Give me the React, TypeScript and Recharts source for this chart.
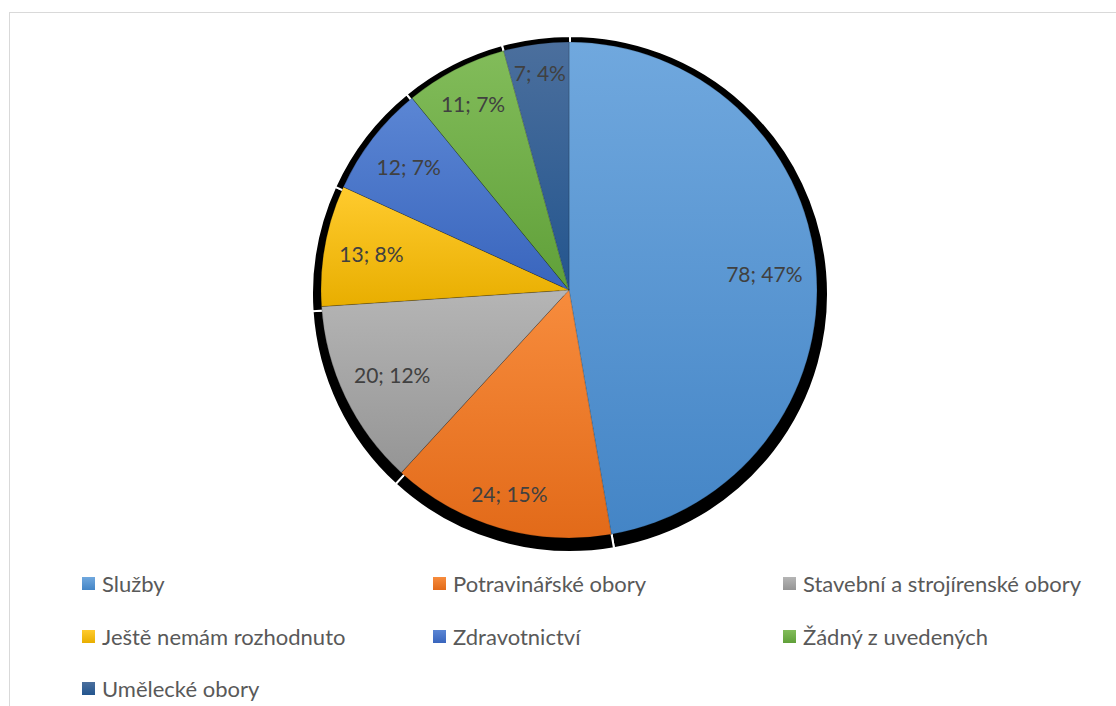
import { PieChart, Pie, Cell, Legend } from "recharts";

const categories = [
  "Služby",
  "Potravinářské obory",
  "Stavební a strojírenské obory",
  "Ještě nemám rozhodnuto",
  "Zdravotnictví",
  "Žádný z uvedených",
  "Umělecké obory",
];
const counts = [78, 24, 20, 13, 12, 11, 7];
const topColors = ["#70a8de", "#f78c3d", "#b5b5b5", "#ffcb2e", "#5b86d4", "#82bc5a", "#4b6f9d"];
const bottomColors = ["#4485c6", "#e26a19", "#959595", "#e8ae00", "#3965bd", "#60a039", "#23558e"];

const data = categories.map((name, i) => ({ name, value: counts[i] }));

const RADIAN = Math.PI / 180;
const FONT = "Lato, 'Open Sans', sans-serif";

// "inside end" style: push the label box out until its far corner nears the rim
const renderLabel = (props: any) => {
  const { cx, cy, midAngle, outerRadius, value, percent } = props;
  const text = `${value}; ${Math.round(percent * 100)}%`;
  const ux = Math.cos(-midAngle * RADIAN);
  const uy = Math.sin(-midAngle * RADIAN);
  const hw = (text.length * 10.6) / 2;
  const hh = 10;
  const c = outerRadius - 14;
  const b = Math.abs(ux) * hw + Math.abs(uy) * hh;
  const d = -b + Math.sqrt(b * b - (hw * hw + hh * hh - c * c));
  const x = cx + d * ux;
  const y = cy + d * uy;
  return (
    <text
      x={x}
      y={y}
      fill="#404040"
      fontSize={21}
      fontFamily={FONT}
      textAnchor="middle"
      dominantBaseline="central"
    >
      {text}
    </text>
  );
};

const legendCols = [82, 433, 783];
const legendRows = [583, 636, 688];

const renderLegend = () => (
  <div style={{ position: "relative", width: 1116, height: 140 }}>
    {categories.map((name, i) => {
      const col = i % 3;
      const row = Math.floor(i / 3);
      return (
        <div
          key={name}
          style={{
            position: "absolute",
            left: legendCols[col],
            top: legendRows[row] - 570 - 14,
            height: 28,
            display: "flex",
            alignItems: "center",
            whiteSpace: "nowrap",
          }}
        >
          <span
            style={{
              display: "inline-block",
              width: 13,
              height: 13,
              marginRight: 7,
              background: `linear-gradient(${topColors[i]}, ${bottomColors[i]})`,
            }}
          />
          <span style={{ fontFamily: FONT, fontSize: 22, color: "#595959" }}>{name}</span>
        </div>
      );
    })}
  </div>
);

export default function App() {
  return (
    <div
      style={{
        position: "absolute",
        left: 0,
        top: 0,
        width: 1116,
        height: 706,
        overflow: "hidden",
        background: "#ffffff",
      }}
    >
      <div
        style={{
          position: "absolute",
          left: 9,
          top: 12,
          width: 1130,
          height: 720,
          border: "1px solid #d9d9d9",
        }}
      />
      <div style={{ position: "absolute", left: 0, top: 0 }}>
        <PieChart width={1116} height={706}>
          <defs>
            {categories.map((_, i) => (
              <linearGradient key={i} id={`grad${i}`} x1="0" y1="0" x2="0" y2="1">
                <stop offset="0%" stopColor={topColors[i]} />
                <stop offset="100%" stopColor={bottomColors[i]} />
              </linearGradient>
            ))}
          </defs>
          <Pie
            data={data}
            dataKey="value"
            nameKey="name"
            cx={565}
            cy={289}
            outerRadius={258}
            startAngle={90}
            endAngle={-270}
            fill="#000000"
            stroke="#ffffff"
            strokeWidth={2}
            legendType="none"
            isAnimationActive={false}
          />
          <Pie
            data={data}
            dataKey="value"
            nameKey="name"
            cx={564}
            cy={285}
            outerRadius={248}
            startAngle={90}
            endAngle={-270}
            stroke="rgba(0,0,0,0.25)"
            strokeWidth={0.75}
            label={renderLabel}
            labelLine={false}
            isAnimationActive={false}
          >
            {data.map((_, i) => (
              <Cell key={i} fill={`url(#grad${i})`} />
            ))}
          </Pie>
          <Legend
            content={renderLegend}
            wrapperStyle={{ position: "absolute", left: 0, top: 570, width: 1116, height: 140 }}
          />
        </PieChart>
      </div>
    </div>
  );
}
